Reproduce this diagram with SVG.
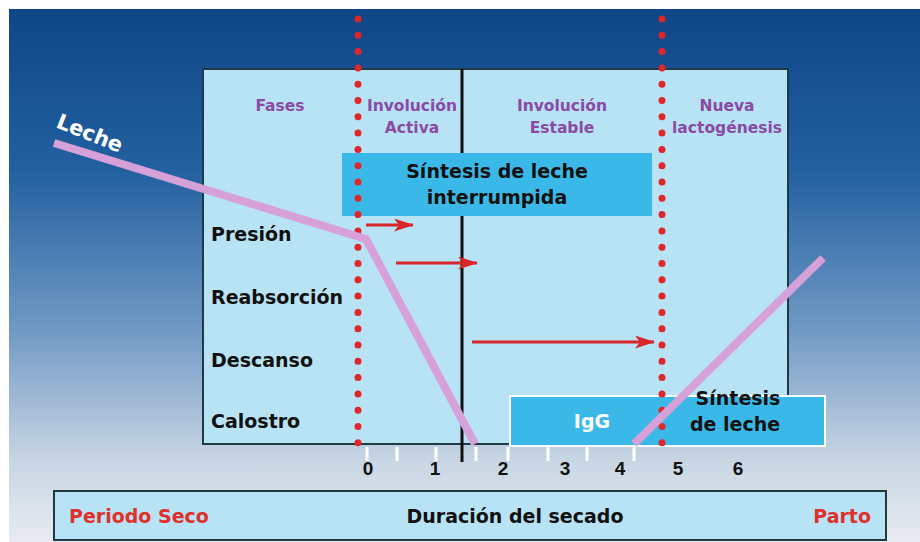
<svg xmlns="http://www.w3.org/2000/svg" width="920" height="542" viewBox="0 0 920 542">
<defs>
<linearGradient id="bg" x1="0" y1="0" x2="0" y2="1">
<stop offset="0" stop-color="#0f4688"/>
<stop offset="0.3" stop-color="#22609f"/>
<stop offset="0.6" stop-color="#7099c4"/>
<stop offset="0.85" stop-color="#c9d6e4"/>
<stop offset="1" stop-color="#e8ecf1"/>
</linearGradient>
<marker id="ah" viewBox="0 0 20 13" refX="19" refY="6.5" markerWidth="20" markerHeight="13" markerUnits="userSpaceOnUse" orient="auto">
<path d="M0,0 L20,6.5 L0,13 L5,6.5 Z" fill="#d8262b"/>
</marker>
<style>
.panel{fill:#b8e3f5;stroke:#1e3a42;stroke-width:2}
.box{fill:#3ab9e9}
.hdr{font-family:"DejaVu Sans",Arial,sans-serif;font-weight:bold;font-size:15.5px;fill:#8a4aa6;text-anchor:middle}
.lbl{font-family:"DejaVu Sans",Arial,sans-serif;font-weight:bold;font-size:19px;fill:#111}
.mid{text-anchor:middle}
.num{font-family:"Liberation Sans",Arial,sans-serif;font-size:19px;fill:#111;text-anchor:middle;font-weight:bold}
.red{fill:#e0302c}
.dots{stroke:#e0262a;stroke-width:7;stroke-linecap:round;stroke-dasharray:0 16.3;fill:none}
.milk{stroke:#d6a0d8;stroke-width:8;fill:none;stroke-linejoin:miter}
.arr{stroke:#d8262b;stroke-width:3;fill:none}
.tick{stroke:#ffffff;stroke-width:3}
</style>
</defs>
<rect x="0" y="0" width="920" height="542" fill="#ffffff"/>
<rect x="9" y="9" width="911" height="533" fill="url(#bg)"/>

<g id="panel">
<rect class="panel" x="203" y="69" width="585" height="375"/>
</g>
<g id="divider">
<line x1="462" y1="69" x2="462" y2="462" stroke="#111" stroke-width="3"/>
</g>

<g id="headers">
<text class="hdr" x="280" y="111">Fases</text>
<text class="hdr" x="412" y="111">Involución</text>
<text class="hdr" x="412" y="133">Activa</text>
<text class="hdr" x="562" y="111">Involución</text>
<text class="hdr" x="562" y="133">Estable</text>
<text class="hdr" x="727" y="111">Nueva</text>
<text class="hdr" x="727" y="133">lactogénesis</text>
</g>

<g id="sintesis-interrumpida">
<rect class="box" x="342" y="153" width="310" height="63"/>
<text class="lbl mid" x="497" y="178">Síntesis de leche</text>
<text class="lbl mid" x="497" y="204">interrumpida</text>
</g>

<g id="fases">
<text class="lbl" x="211" y="241">Presión</text>
<text class="lbl" x="211" y="304">Reabsorción</text>
<text class="lbl" x="211" y="367">Descanso</text>
<text class="lbl" x="211" y="428">Calostro</text>
</g>

<g id="igg-box">
<rect class="box" x="510" y="396" width="315" height="50" stroke="#ffffff" stroke-width="2"/>
<text class="lbl mid" x="592" y="428" style="fill:#ffffff">IgG</text>
<text class="lbl mid" x="738" y="405">Síntesis</text>
<text class="lbl mid" x="735" y="431">de leche</text>
</g>

<g id="dotted-lines">
<line class="dots" x1="358" y1="19" x2="358" y2="448"/>
<line class="dots" x1="662" y1="19" x2="662" y2="448"/>
</g>

<g id="connectors">
<line class="arr" x1="366" y1="225" x2="413" y2="225" marker-end="url(#ah)"/>
<line class="arr" x1="396" y1="263" x2="477" y2="263" marker-end="url(#ah)"/>
<line class="arr" x1="472" y1="342" x2="654" y2="342" marker-end="url(#ah)"/>
</g>

<g id="leche">
<polyline class="milk" points="54,143 366,239 475,444"/>
<line class="milk" x1="634" y1="444" x2="823" y2="258"/>
<text x="55" y="127" transform="rotate(22 55 127)" font-family="'DejaVu Sans',Arial,sans-serif" font-weight="bold" font-size="21" fill="#ffffff">Leche</text>
</g>

<g id="axis">
<line class="tick" x1="367" y1="447" x2="367" y2="461"/>
<line class="tick" x1="397" y1="447" x2="397" y2="461"/>
<line class="tick" x1="436" y1="447" x2="436" y2="461"/>
<line class="tick" x1="476" y1="447" x2="476" y2="461"/>
<line class="tick" x1="508" y1="447" x2="508" y2="461"/>
<line class="tick" x1="548" y1="447" x2="548" y2="461"/>
<line class="tick" x1="587" y1="447" x2="587" y2="461"/>
<line class="tick" x1="634" y1="447" x2="634" y2="461"/>
<text class="num" x="368" y="475">0</text>
<text class="num" x="435" y="475">1</text>
<text class="num" x="503" y="475">2</text>
<text class="num" x="565" y="475">3</text>
<text class="num" x="620" y="475">4</text>
<text class="num" x="678" y="475">5</text>
<text class="num" x="738" y="475">6</text>
</g>

<g id="timeline">
<rect class="panel" x="54" y="491" width="832" height="49"/>
<text class="lbl red" x="69" y="523">Periodo Seco</text>
<text class="lbl mid" x="515" y="523">Duración del secado</text>
<text class="lbl red" x="871" y="523" text-anchor="end">Parto</text>
</g>
</svg>
